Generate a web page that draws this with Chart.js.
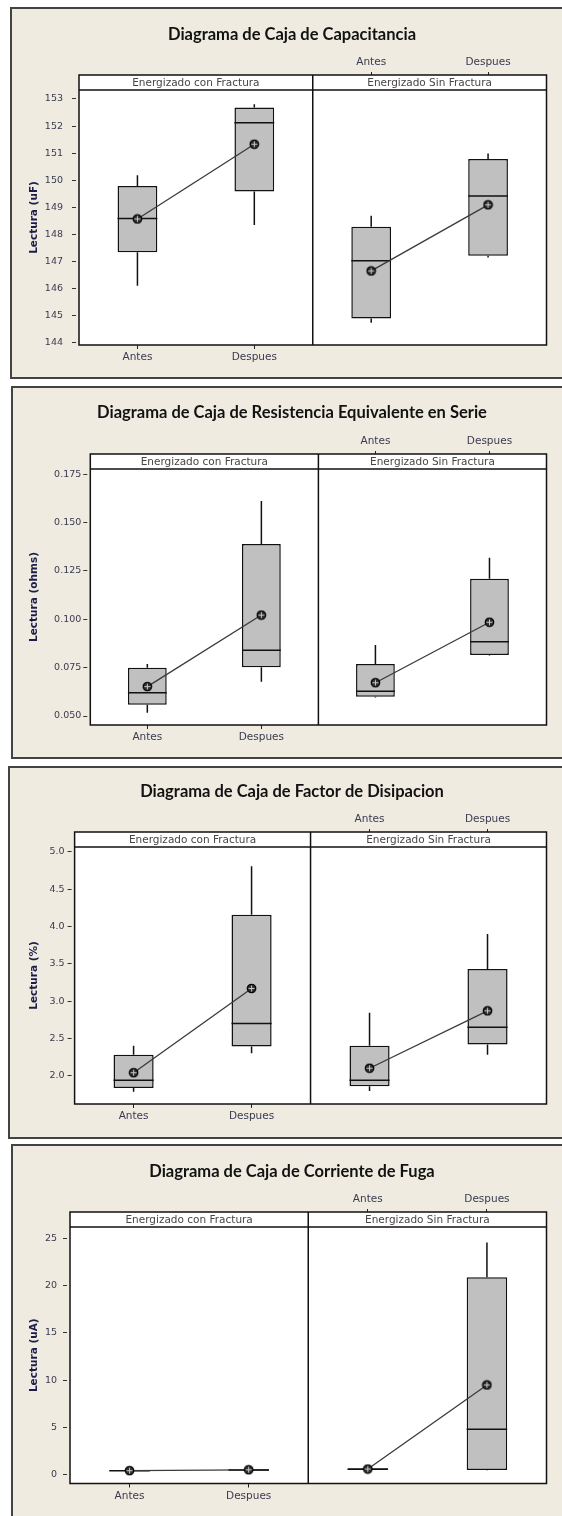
<!DOCTYPE html>
<html>
<head>
<meta charset="utf-8">
<script src="https://cdn.jsdelivr.net/npm/chart.js@4.4.1/dist/chart.umd.min.js"></script>
<style>
  html, body { margin: 0; padding: 0; background: #ffffff; overflow: hidden; }
  body { position: relative; width: 562px; height: 1516px; }
  .frame { position: absolute; box-sizing: border-box; border: 2px solid #434343; background: #efebe1; width: 620px; }
  canvas { position: absolute; left: 0; }
</style>
</head>
<body>
<div class="frame" style="left:10px; top:7px; height:372px"></div>
<div class="frame" style="left:11px; top:386px; height:373px"></div>
<div class="frame" style="left:8px; top:766px; height:373px"></div>
<div class="frame" style="left:11px; top:1144px; height:400px"></div>

<canvas id="cap" width="584" height="372" style="top:7px"></canvas>
<canvas id="esr" width="584" height="373" style="top:386px"></canvas>
<canvas id="df" width="584" height="373" style="top:766px"></canvas>
<canvas id="fuga" width="584" height="372" style="top:1144px"></canvas>

<script>
// Groups: Antes / Despues inside each facet
const categories = ['Antes', 'Despues', 'Antes', 'Despues'];
const facets = ['Energizado con Fractura', 'Energizado Sin Fractura'];

// Capacitancia (uF)
const capMin    = [146.10, 148.35, 144.74, 147.15];
const capQ1     = [147.34, 149.58, 144.89, 147.21];
const capMedian = [148.59, 152.12, 147.03, 149.42];
const capQ3     = [149.79, 152.69, 148.28, 150.78];
const capMax    = [150.18, 152.81, 148.69, 150.99];
const capMean   = [148.57, 151.33, 146.65, 149.09];
const capTicks  = [144, 145, 146, 147, 148, 149, 150, 151, 152, 153];

// Resistencia equivalente en serie (ohms)
const esrMin    = [0.0517, 0.0677, 0.0596, 0.0813];
const esrQ1     = [0.0558, 0.0752, 0.0600, 0.0815];
const esrMedian = [0.0620, 0.0840, 0.0628, 0.0884];
const esrQ3     = [0.0750, 0.1390, 0.0769, 0.1210];
const esrMax    = [0.0769, 0.1612, 0.0867, 0.1319];
const esrMean   = [0.0652, 0.1022, 0.0672, 0.0985];
const esrTicks  = [0.050, 0.075, 0.100, 0.125, 0.150, 0.175];

// Factor de disipacion (%)
const dfMin    = [1.785, 2.30, 1.795, 2.28];
const dfQ1     = [1.835, 2.39, 1.86, 2.42];
const dfMedian = [1.94, 2.70, 1.94, 2.65];
const dfQ3     = [2.28, 4.16, 2.40, 3.43];
const dfMax    = [2.40, 4.81, 2.845, 3.90];
const dfMean   = [2.04, 3.17, 2.10, 2.87];
const dfTicks  = [2.0, 2.5, 3.0, 3.5, 4.0, 4.5, 5.0];

// Corriente de fuga (uA)
const fugaMin    = [0.40, 0.45, 0.45, 0.50];
const fugaQ1     = [0.42, 0.44, 0.52, 0.53];
const fugaMedian = [0.45, 0.52, 0.60, 4.83];
const fugaQ3     = [0.50, 0.62, 0.72, 20.88];
const fugaMax    = [0.52, 0.65, 0.75, 24.54];
const fugaMean   = [0.46, 0.55, 0.63, 9.51];
const fugaTicks  = [0, 5, 10, 15, 20, 25];

// Circle-with-cross symbol used for the group means
function meanSymbol() {
  const c = document.createElement('canvas');
  c.width = 11; c.height = 11;
  const g = c.getContext('2d');
  g.beginPath();
  g.arc(5.5, 5.5, 4.2, 0, Math.PI * 2);
  g.fillStyle = '#333';
  g.fill();
  g.lineWidth = 1.3;
  g.strokeStyle = '#000';
  g.stroke();
  g.strokeStyle = '#c8c8c8';
  g.lineWidth = 1;
  g.beginPath();
  g.moveTo(5.5, 2.5); g.lineTo(5.5, 8.5);
  g.moveTo(2.5, 5.5); g.lineTo(8.5, 5.5);
  g.stroke();
  return c;
}
const meanSym = meanSymbol();

// Medians and whiskers, placed on the box elements through the y scale
const boxWhiskers = {
  id: 'boxWhiskers',
  afterDatasetDraw(chart, args) {
    if (args.index !== 0) return;
    const stats = chart.data.datasets[0].stats;
    const ys = chart.scales.y;
    const ctx = chart.ctx;
    ctx.save();
    ctx.strokeStyle = '#111';
    ctx.lineWidth = 1.5;
    chart.getDatasetMeta(0).data.forEach((el, i) => {
      const half = el.width / 2;
      const top = Math.min(el.y, el.base);
      const bot = Math.max(el.y, el.base);
      const yMed = ys.getPixelForValue(stats.median[i]);
      ctx.beginPath();
      ctx.moveTo(el.x - half, yMed); ctx.lineTo(el.x + half, yMed);
      ctx.moveTo(el.x, top); ctx.lineTo(el.x, ys.getPixelForValue(stats.max[i]));
      ctx.moveTo(el.x, bot); ctx.lineTo(el.x, ys.getPixelForValue(stats.min[i]));
      ctx.stroke();
    });
    ctx.restore();
  }
};

// White plot background
const plotBackground = {
  id: 'plotBackground',
  beforeDraw(chart) {
    const { left, right, top, bottom } = chart.chartArea;
    chart.ctx.save();
    chart.ctx.fillStyle = '#ffffff';
    chart.ctx.fillRect(left, top, right - left, bottom - top);
    chart.ctx.restore();
  }
};

// Facet header strip, panel outline and divider between facets
const facetStrip = {
  id: 'facetStrip',
  afterDraw(chart) {
    const { left, right, top, bottom } = chart.chartArea;
    const ctx = chart.ctx;
    const xs = chart.scales.x;
    const mid = (xs.getPixelForValue(1) + xs.getPixelForValue(2)) / 2;
    const stripH = 15;
    const stripTop = top - stripH;
    ctx.save();
    ctx.fillStyle = '#ffffff';
    ctx.fillRect(left, stripTop, right - left, stripH);
    ctx.strokeStyle = '#111';
    ctx.lineWidth = 1.5;
    ctx.strokeRect(left, stripTop, right - left, bottom - stripTop);
    ctx.beginPath();
    ctx.moveTo(left, top); ctx.lineTo(right, top);
    ctx.moveTo(mid, stripTop); ctx.lineTo(mid, bottom);
    ctx.stroke();
    ctx.fillStyle = '#4a4444';
    ctx.font = '10.5px "DejaVu Sans"';
    ctx.textAlign = 'center';
    ctx.textBaseline = 'middle';
    ctx.fillText(facets[0], (left + mid) / 2, stripTop + stripH / 2 + 0.5);
    ctx.fillText(facets[1], (mid + right) / 2, stripTop + stripH / 2 + 0.5);
    ctx.restore();
  }
};

const tickFont = { family: 'DejaVu Sans', size: 9.5 };
const labelFont = { family: 'DejaVu Sans', size: 10.5 };
const tickColor = '#3a3a4e';
const titleSize = 16.5;
const titleLine = titleSize * 1.2;
const plotRight = 546.5;

function makeChart(id, p) {
  const canvas = document.getElementById(id);
  const titlePad = p.titleCenter - titleLine / 2;
  const topAxisH = p.areaTop - titleLine - titlePad;
  const chart = new Chart(canvas, {
    type: 'bar',
    data: {
      labels: categories,
      datasets: [
        {
          type: 'bar',
          data: p.q1.map((v, i) => [v, p.q3[i]]),
          stats: { min: p.min, median: p.median, max: p.max },
          backgroundColor: '#c0c0c0',
          borderColor: '#111',
          borderWidth: 1.5,
          borderSkipped: false,
          barPercentage: 0.34,
          categoryPercentage: 1,
          order: 2
        },
        {
          type: 'line',
          data: [p.mean[0], p.mean[1], null, null],
          borderColor: '#3a3a3a',
          borderWidth: 1.3,
          pointStyle: meanSym,
          pointRadius: 5,
          spanGaps: false,
          order: 1
        },
        {
          type: 'line',
          data: [null, null, p.mean[2], p.mean[3]],
          borderColor: '#3a3a3a',
          borderWidth: 1.3,
          pointStyle: meanSym,
          pointRadius: 5,
          spanGaps: false,
          order: 1
        }
      ]
    },
    options: {
      responsive: false,
      animation: false,
      devicePixelRatio: 1,
      layout: { padding: { left: 0, right: 0, top: 0, bottom: p.padBottom } },
      plugins: {
        legend: { display: false },
        tooltip: { enabled: false },
        title: {
          display: true,
          text: p.title,
          color: '#121212',
          font: { family: 'Lato', weight: 'bold', size: titleSize },
          padding: { top: titlePad, bottom: 0 }
        }
      },
      scales: {
        x: {
          type: 'category',
          position: 'bottom',
          offset: true,
          border: { display: false },
          grid: {
            offset: false,
            drawOnChartArea: false,
            tickLength: 4,
            tickColor: c => (c.index < 2 ? '#222' : 'rgba(0,0,0,0)')
          },
          ticks: {
            autoSkip: false,
            maxRotation: 0,
            padding: 2.4,
            color: tickColor,
            font: labelFont,
            callback: (v, i) => (i < 2 ? categories[i] : '')
          },
          afterFit: s => { s.height = 30; }
        },
        x2: {
          type: 'category',
          position: 'top',
          labels: categories,
          offset: true,
          border: { display: false },
          grid: {
            offset: false,
            drawOnChartArea: false,
            tickLength: 18,
            tickColor: c => (c.index >= 2 ? '#222' : 'rgba(0,0,0,0)')
          },
          ticks: {
            autoSkip: false,
            maxRotation: 0,
            padding: 3.4,
            color: tickColor,
            font: labelFont,
            callback: (v, i) => (i >= 2 ? categories[i] : '')
          },
          afterFit: s => { s.height = topAxisH; }
        },
        y: {
          type: 'linear',
          min: p.yMin,
          max: p.yMax,
          border: { display: false },
          afterBuildTicks: s => { s.ticks = p.ticks.map(v => ({ value: v })); },
          grid: {
            drawOnChartArea: false,
            tickLength: 7,
            tickBorderDash: [4, 50],
            tickColor: '#333'
          },
          ticks: {
            padding: p.tickPad,
            color: tickColor,
            font: tickFont,
            callback: v => p.fmt(v)
          },
          title: {
            display: true,
            text: p.yTitle,
            color: '#1c1c48',
            font: { family: 'DejaVu Sans', weight: 'bold', size: 10.5 },
            padding: { top: 27.7, bottom: 0 }
          },
          afterFit: s => { s.width = p.left; }
        },
        // empty right-hand margin so the title stays centred on the whole frame
        yRight: {
          type: 'linear',
          position: 'right',
          display: true,
          border: { display: false },
          grid: { display: false },
          ticks: { display: false },
          afterFit: s => { s.width = canvas.width - plotRight; }
        }
      }
    },
    plugins: [plotBackground, boxWhiskers, facetStrip]
  });
  return chart;
}

makeChart('cap', {
  title: 'Diagrama de Caja de Capacitancia', yTitle: 'Lectura (uF)',
  min: capMin, q1: capQ1, median: capMedian, q3: capQ3, max: capMax, mean: capMean,
  ticks: capTicks, fmt: v => String(v),
  yMin: 143.915, yMax: 153.332,
  left: 79, tickPad: 9, titleCenter: 28, areaTop: 83, padBottom: 4
});

makeChart('esr', {
  title: 'Diagrama de Caja de Resistencia Equivalente en Serie', yTitle: 'Lectura (ohms)',
  min: esrMin, q1: esrQ1, median: esrMedian, q3: esrQ3, max: esrMax, mean: esrMean,
  ticks: esrTicks, fmt: v => v.toFixed(3),
  yMin: 0.04535, yMax: 0.17774,
  left: 90.3, tickPad: 2, titleCenter: 27, areaTop: 83, padBottom: 4
});

makeChart('df', {
  title: 'Diagrama de Caja de Factor de Disipacion', yTitle: 'Lectura (%)',
  min: dfMin, q1: dfQ1, median: dfMedian, q3: dfQ3, max: dfMax, mean: dfMean,
  ticks: dfTicks, fmt: v => v.toFixed(1),
  yMin: 1.6205, yMax: 5.067,
  left: 74.6, tickPad: 3, titleCenter: 26, areaTop: 81, padBottom: 5
});

makeChart('fuga', {
  title: 'Diagrama de Caja de Corriente de Fuga', yTitle: 'Lectura (uA)',
  min: fugaMin, q1: fugaQ1, median: fugaMedian, q3: fugaQ3, max: fugaMax, mean: fugaMean,
  ticks: fugaTicks, fmt: v => String(v),
  yMin: -0.898, yMax: 26.19,
  left: 70, tickPad: 6, titleCenter: 28, areaTop: 83, padBottom: 2.5
});
</script>
</body>
</html>
